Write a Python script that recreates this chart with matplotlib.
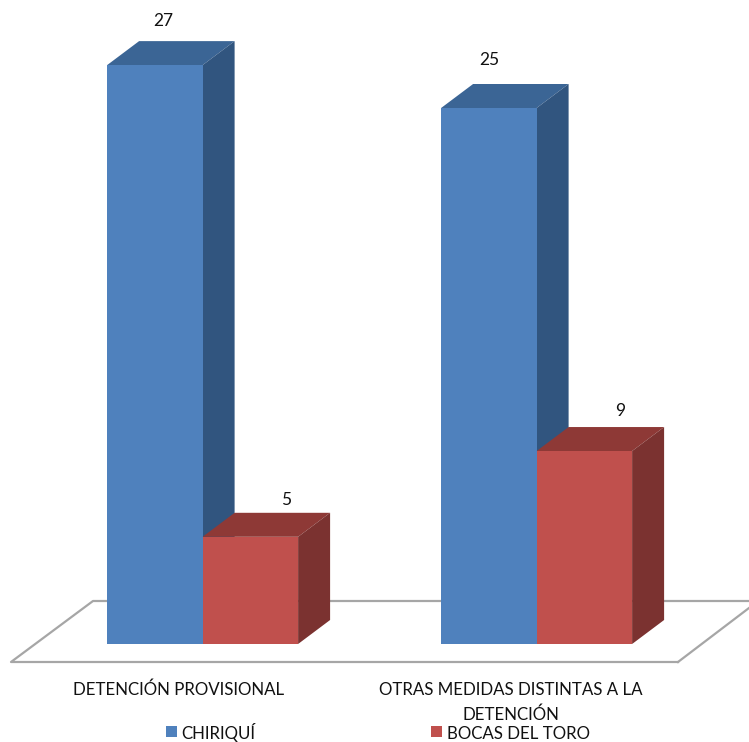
import matplotlib
matplotlib.use('Agg')
import matplotlib.pyplot as plt
from matplotlib.patches import Polygon, Rectangle

categories = ['DETENCIÓN PROVISIONAL', 'OTRAS MEDIDAS DISTINTAS A LA\nDETENCIÓN']
chiriqui = [27, 25]
bocas = [5, 9]

plt.rcParams['font.family'] = ['Lato', 'DejaVu Sans']

W, H = 749, 742
# pixel layout of the picture
X0, UNIT_X = 202.6, 334   # px of category 0 boundary, px per category
Y0, UNIT_Y = 644, 21.44   # px of value 0, px per value
BAR = 95.5 / UNIT_X
DX = 32 / UNIT_X
DY = 24 / UNIT_Y
TXT = '#111111'
FS = 12.2

# data labels were moved by hand in the original, px from the middle of the bar top
chiriqui_off = [(8, 44), (0, 48)]
bocas_off = [(36, 37), (36, 40)]


def px(x, y):
    return (x - X0) / UNIT_X, (Y0 - y) / UNIT_Y


def bar_3d(ax, x, width, value, front, top, side, z):
    ax.bar(x, value, width, align='edge', color=front, linewidth=0, zorder=z + 0.2)
    ax.add_patch(Polygon([(x, value), (x + width, value), (x + width + DX, value + DY), (x + DX, value + DY)],
                         closed=True, facecolor=top, edgecolor='none', zorder=z))
    ax.add_patch(Polygon([(x + width, 0), (x + width + DX, DY), (x + width + DX, value + DY), (x + width, value)],
                         closed=True, facecolor=side, edgecolor='none', zorder=z))


fig = plt.figure(figsize=(W / 100, H / 100), dpi=100)
ax = fig.add_axes([0, 0, 1, 1])
ax.set_xlim(px(0, 0)[0], px(W, 0)[0])
ax.set_ylim(px(0, H)[1], px(0, 0)[1])
ax.axis('off')

# floor
floor = [px(678, 662), px(11, 662), px(93, 601), px(749, 601)]
ax.plot([p[0] for p in floor], [p[1] for p in floor], color='#a6a6a6', lw=1.6, zorder=1)
ax.plot([px(678, 662)[0], px(749, 608)[0]], [px(678, 662)[1], px(749, 608)[1]], color='#a6a6a6', lw=1.6, zorder=1)

for i in range(len(categories)):
    bar_3d(ax, i - BAR, BAR, chiriqui[i], '#4f81bd', '#3b6595', '#31557f', 2 + i)
    bar_3d(ax, i, BAR, bocas[i], '#c0504d', '#8e3936', '#7b3230', 3 + i)
    ax.annotate(str(chiriqui[i]), (i - BAR / 2, chiriqui[i]), xytext=(chiriqui_off[i][0] * 0.72, chiriqui_off[i][1] * 0.72),
                textcoords='offset points', ha='center', va='center', fontsize=12.5, color=TXT)
    ax.annotate(str(bocas[i]), (i + BAR / 2, bocas[i]), xytext=(bocas_off[i][0] * 0.72, bocas_off[i][1] * 0.72),
                textcoords='offset points', ha='center', va='center', fontsize=12.5, color=TXT)

ax.text(*px(178.5, 695), categories[0], ha='center', va='baseline', fontsize=FS, color=TXT)
ax.text(*px(511, 695), categories[1].split('\n')[0], ha='center', va='baseline', fontsize=FS, color=TXT)
ax.text(*px(511, 720), categories[1].split('\n')[1], ha='center', va='baseline', fontsize=FS, color=TXT)

# legend
ax.add_patch(Rectangle(px(166, 737), 11 / UNIT_X, 11 / UNIT_Y, facecolor='#4f81bd', edgecolor='none'))
ax.text(*px(181, 739), 'CHIRIQUÍ', ha='left', va='baseline', fontsize=FS, color=TXT)
ax.add_patch(Rectangle(px(431, 737), 11 / UNIT_X, 11 / UNIT_Y, facecolor='#c0504d', edgecolor='none'))
ax.text(*px(447, 739), 'BOCAS DEL TORO', ha='left', va='baseline', fontsize=FS, color=TXT)

fig.savefig('out.png', dpi=100)
